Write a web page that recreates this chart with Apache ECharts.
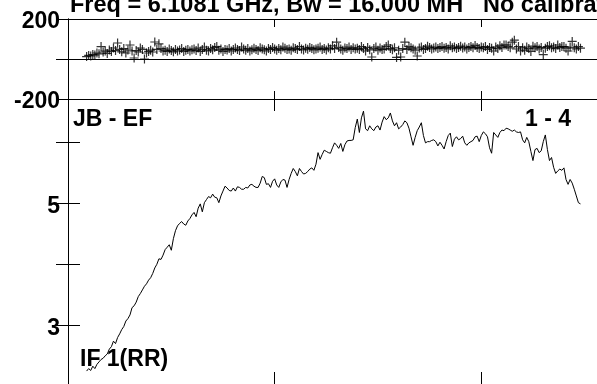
<!DOCTYPE html>
<html>
<head>
<meta charset="utf-8">
<script src="https://cdn.jsdelivr.net/npm/echarts@6/dist/echarts.min.js"></script>
<style>
  html, body { margin: 0; padding: 0; background: #fff; }
  #chart { width: 597px; height: 384px; }
</style>
</head>
<body>
<div id="chart"></div>
<script>
// Channel numbering of the spectrum (first unflagged channel)
const firstChannel = 9;

// Visibility amplitude per channel (Jy)
const amplitude = [
  2.25, 2.29, 2.26, 2.33, 2.29, 2.36, 2.40, 2.44, 2.46, 2.50,
  2.53, 2.61, 2.65, 2.74, 2.70, 2.80, 2.86, 2.93, 2.98, 3.07,
  3.11, 3.17, 3.29, 3.32, 3.38, 3.47, 3.52, 3.58, 3.64, 3.68,
  3.74, 3.78, 3.85, 3.94, 4.00, 4.09, 4.08, 4.15, 4.24, 4.28,
  4.32, 4.23, 4.42, 4.55, 4.63, 4.67, 4.70, 4.66, 4.64, 4.71,
  4.75, 4.81, 4.85, 4.78, 4.92, 4.99, 4.86, 5.01, 5.06, 5.11,
  5.09, 5.15, 5.10, 5.09, 5.01, 5.12, 5.20, 5.28, 5.25, 5.21,
  5.20, 5.25, 5.20, 5.27, 5.26, 5.23, 5.23, 5.26, 5.25, 5.30,
  5.31, 5.28, 5.26, 5.26, 5.33, 5.44, 5.42, 5.31, 5.32, 5.26,
  5.36, 5.40, 5.30, 5.26, 5.35, 5.39, 5.38, 5.26, 5.39, 5.49,
  5.57, 5.52, 5.45, 5.57, 5.52, 5.48, 5.49, 5.52, 5.56, 5.58,
  5.54, 5.64, 5.83, 5.72, 5.80, 5.87, 5.85, 5.83, 5.82, 5.91,
  5.99, 5.95, 5.90, 5.98, 5.85, 5.96, 6.02, 6.03, 6.03, 6.04,
  6.24, 6.38, 6.16, 6.40, 6.51, 6.22, 6.19, 6.27, 6.22, 6.19,
  6.25, 6.27, 6.20, 6.33, 6.42, 6.37, 6.40, 6.48, 6.35, 6.27,
  6.32, 6.22, 6.25, 6.29, 6.35, 6.32, 6.23, 6.09, 5.95, 6.08,
  6.19, 6.25, 6.32, 6.11, 5.99, 6.01, 6.01, 6.03, 6.04, 6.01,
  5.94, 6.00, 5.95, 5.89, 6.01, 6.11, 6.15, 5.93, 6.05, 6.09,
  6.04, 6.06, 6.10, 5.99, 5.95, 5.99, 6.01, 6.03, 6.09, 6.10,
  6.01, 6.11, 6.17, 6.14, 6.09, 5.91, 5.82, 6.16, 6.12, 6.08,
  6.16, 6.20, 6.19, 6.23, 6.22, 6.20, 6.18, 6.20, 6.17, 6.16,
  6.17, 6.04, 5.99, 6.08, 6.01, 5.85, 5.70, 5.88, 5.90, 5.83,
  5.86, 6.01, 6.12, 5.88, 5.70, 5.75, 5.59, 5.49, 5.53, 5.56,
  5.54, 5.58, 5.39, 5.31, 5.39, 5.33, 5.23, 5.12, 5.01, 4.99
];

// Visibility phase per channel (degrees)
const phase = [
  12, 18, 15, 22, 20, 30, 26, 62, 35, 40, 28, 45,
  38, 55, 42, 80, 48, 36, 52, 30, 45, 70, 40, 5, 42, 35, 55, 48, 0, 30, 38, 44,
  35, 85, 48, 76, 52, 40, 44, 38, 50, 42, 36, 48, 40, 45, 52, 38, 44, 48, 40, 46,
  50, 42, 55, 38, 48, 60, 44, 40, 52, 46, 58, 62, 44, 50, 38, 48, 45, 52, 40, 47,
  55, 48, 42, 60, 50, 44, 52, 40, 46, 54, 48, 42, 56, 50, 46, 40, 52, 48, 58, 50,
  44, 52, 46, 60, 54, 48, 50, 44, 56, 52, 47, 62, 50, 45, 54, 49, 58, 52, 46, 50,
  54, 60, 48, 52, 45, 56, 50, 66, 52, 84, 58, 50, 44, 55, 52, 60, 48, 56, 50, 54,
  47, 62, 52, 40, 58, 46, 10, 52, 60, 44, 55, 48, 50, 62, 70, 52, 46, 56, 8, 44,
  10, 52, 84, 48, 62, 56, 50, 44, 15, 55, 60, 48, 52, 64, 58, 50, 55, 60, 52, 57,
  62, 54, 58, 50, 66, 56, 60, 52, 58, 64, 55, 60, 50, 57, 62, 56, 68, 58, 52, 60,
  56, 62, 48, 58, 54, 40, 60, 52, 66, 58, 70, 70, 62, 56, 84, 94, 50, 62, 40, 56,
  44, 60, 52, 38, 64, 56, 62, 50, 58, 22, 54, 62, 66, 56, 60, 52, 70, 58, 62, 62,
  54, 40, 60, 88, 56, 50, 62, 54
];

// Axis ranges and tick values
const channelRange = [0, 256];
const channelTickStep = 100;
const phaseRange = [-200, 200];
const phaseLabels = [-200, 200];
const ampRange = [2.038, 6.709];
const ampTicks = [3, 4, 5, 6];
const ampLabels = [3, 5];

// Plot annotations
const titleLeft = 'Freq = 6.1081 GHz, Bw = 16.000 MH';
const titleRight = 'No calibration';
const baselineLabel = 'JB - EF';
const stokesLabel = 'IF 1(RR)';
const panelLabel = '1 - 4';

const phaseData = phase.map((v, i) => [firstChannel + i, v]);
const ampData = amplitude.map((v, i) => [firstChannel + i, v]);

const FONT = "'Liberation Sans', Arial, sans-serif";
const black = '#000';

function xAx(grid, pos, tickLen) {
  return {
    type: 'value', gridIndex: grid, position: pos,
    min: channelRange[0], max: channelRange[1], interval: channelTickStep,
    axisLine: { show: true, onZero: false, lineStyle: { color: black, width: 1 } },
    axisTick: { show: true, inside: true, length: tickLen, lineStyle: { color: black, width: 1 } },
    axisLabel: { show: false },
    splitLine: { show: false }
  };
}

// Axis numbers sit a couple of pixels below their tick: a short line box
// anchored at the tick puts the glyph centre just under it.
const labelStyle = {
  fontFamily: FONT, fontWeight: 'bold', fontSize: 23, color: black, margin: 8,
  verticalAlign: 'top', lineHeight: 6
};

const chart = echarts.init(document.getElementById('chart'), null, { renderer: 'canvas' });
chart.setOption({
  animation: false,
  backgroundColor: '#fff',
  grid: [
    { left: 68, top: 19, width: 532, height: 80 },
    { left: 68, top: 99, width: 532, height: 288 }
  ],
  xAxis: [
    xAx(0, 'bottom', 8),
    xAx(0, 'top', 8),
    xAx(1, 'top', 12),
    xAx(1, 'bottom', 12)
  ],
  yAxis: [
    {
      type: 'value', gridIndex: 0, position: 'left',
      min: phaseRange[0], max: phaseRange[1], interval: 200,
      axisLine: { show: true, lineStyle: { color: black } },
      axisTick: { show: true, inside: true, length: 12, lineStyle: { color: black } },
      axisLabel: Object.assign({ customValues: phaseLabels }, labelStyle),
      splitLine: { show: false }
    },
    {
      type: 'value', gridIndex: 0, position: 'right',
      min: phaseRange[0], max: phaseRange[1], interval: 200,
      axisLine: { show: true, lineStyle: { color: black } },
      axisTick: { show: true, inside: true, length: 12, lineStyle: { color: black } },
      axisLabel: { show: false },
      splitLine: { show: false }
    },
    {
      type: 'value', gridIndex: 1, position: 'left',
      min: ampRange[0], max: ampRange[1],
      axisLine: { show: true, lineStyle: { color: black } },
      axisTick: { show: true, inside: true, length: 12, customValues: ampTicks, lineStyle: { color: black } },
      axisLabel: Object.assign({ customValues: ampLabels }, labelStyle),
      splitLine: { show: false }
    },
    {
      type: 'value', gridIndex: 1, position: 'right',
      min: ampRange[0], max: ampRange[1],
      axisLine: { show: true, lineStyle: { color: black } },
      axisTick: { show: true, inside: true, length: 12, customValues: ampTicks, lineStyle: { color: black } },
      axisLabel: { show: false },
      splitLine: { show: false }
    }
  ],
  series: [
    {
      name: 'phase', type: 'scatter', xAxisIndex: 0, yAxisIndex: 0,
      data: phaseData,
      symbol: 'path://M0,4L8,4M4,0L4,8',
      symbolSize: 9,
      itemStyle: { color: 'none', borderColor: black, borderWidth: 1.2 },
      markLine: {
        silent: true, symbol: ['none', 'none'],
        label: { show: false },
        lineStyle: { color: black, type: 'solid', width: 1 },
        data: [{ yAxis: 0 }]
      }
    },
    {
      name: 'amplitude', type: 'line', xAxisIndex: 3, yAxisIndex: 2,
      data: ampData, showSymbol: false, symbol: 'none',
      lineStyle: { color: black, width: 1 }
    }
  ],
  graphic: [
    { type: 'text', left: 70, top: -6, style: { text: titleLeft, font: "bold 23.5px " + FONT, fill: black } },
    { type: 'text', left: 483, top: -6, style: { text: titleRight, font: "bold 23.5px " + FONT, fill: black } },
    { type: 'text', left: 73, top: 108, style: { text: baselineLabel, font: "bold 23px " + FONT, fill: black } },
    { type: 'text', left: 525, top: 108, style: { text: panelLabel, font: "bold 23px " + FONT, fill: black } },
    { type: 'text', left: 80, top: 348, style: { text: stokesLabel, font: "bold 23px " + FONT, fill: black } }
  ]
});
</script>
</body>
</html>
